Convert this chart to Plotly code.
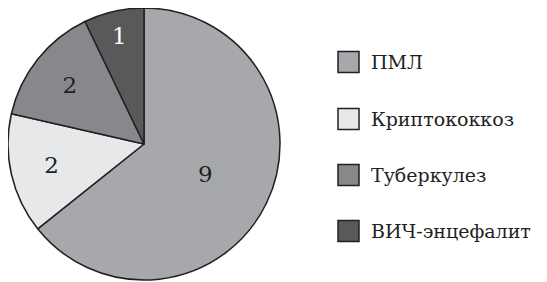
import plotly.graph_objects as go

labels = ["ПМЛ", "Криптококкоз", "Туберкулез", "ВИЧ-энцефалит"]
values = [9, 2, 2, 1]
colors = ["#a7a8ab", "#e7e8ea", "#87888b", "#58595b"]
text_colors = ["#231f20", "#231f20", "#231f20", "#ffffff"]

# page body has an 8px margin, so the figure is shifted by that amount
OFF = 8
W, H = 547 - OFF, 282 - OFF


def px(x):
    return (x - OFF) / W


def py(y):
    return 1 - (y - OFF) / H


fig = go.Figure()
fig.add_trace(go.Pie(
    labels=labels, values=values, sort=False, direction="clockwise", rotation=0,
    marker=dict(colors=colors, line=dict(color="#231f20", width=1.5)),
    textinfo="value", textposition="inside", insidetextorientation="horizontal",
    textfont=dict(family="DejaVu Serif", size=23, color=text_colors),
    domain=dict(x=[px(8), px(280)], y=[py(280), py(8)]),
    showlegend=False, hoverinfo="label+value",
))

# legend drawn as shapes + annotations
sq = 21
x0 = 338
ys = [62, 119, 175, 231]
for lab, col, yc in zip(labels, colors, ys):
    fig.add_shape(type="rect", xref="paper", yref="paper",
                  x0=px(x0), x1=px(x0 + sq),
                  y0=py(yc + sq / 2), y1=py(yc - sq / 2),
                  fillcolor=col, line=dict(color="#231f20", width=1.5))
    fig.add_annotation(xref="paper", yref="paper", x=px(369), y=py(yc),
                       text=lab, showarrow=False, xanchor="left", yanchor="middle",
                       font=dict(family="DejaVu Serif", size=19, color="#231f20"))

fig.update_layout(width=W, height=H, margin=dict(l=0, r=0, t=0, b=0),
                  paper_bgcolor="white", plot_bgcolor="white")
fig.write_html("out.html")
